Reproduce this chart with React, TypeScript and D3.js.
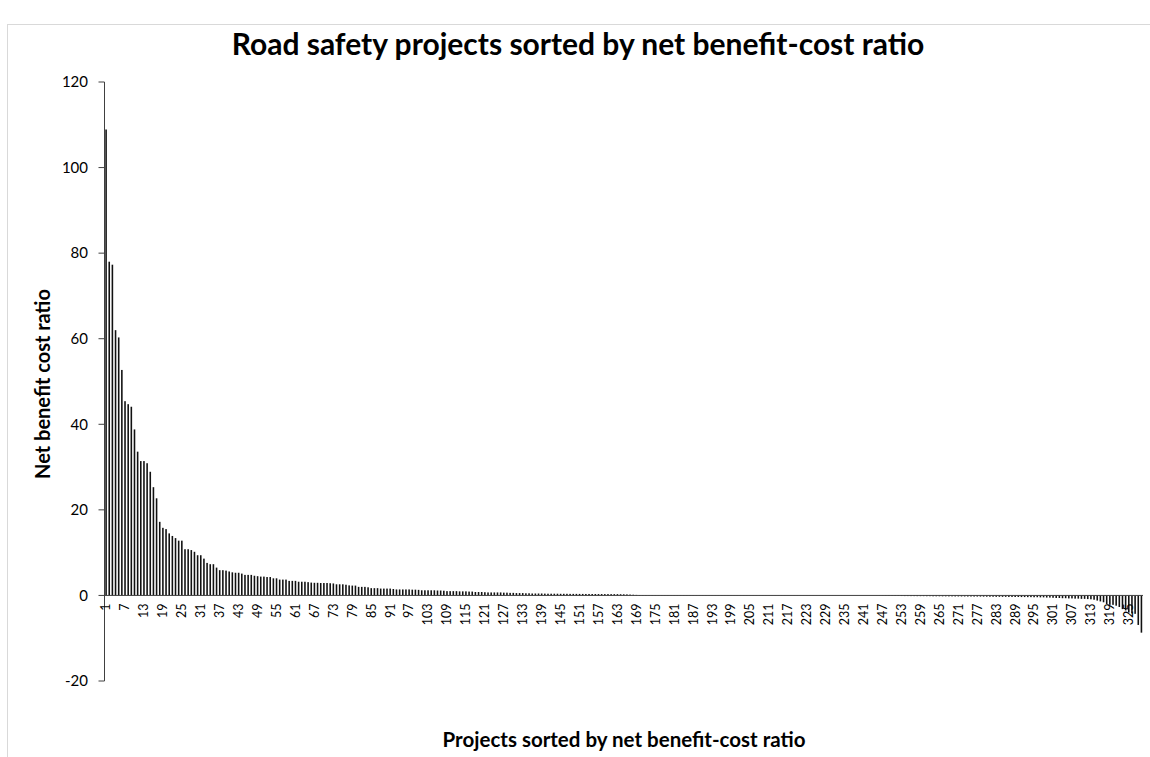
import React from "react";
import * as d3 from "d3";

// ---- Data ----
const chartTitle = "Road safety projects sorted by net benefit-cost ratio";
const yAxisTitle = "Net benefit cost ratio";
const xAxisTitle = "Projects sorted by net benefit-cost ratio";

const yTicks = [-20, 0, 20, 40, 60, 80, 100, 120];

const values: number[] = [
  // 1-20
  108.9, 78.0, 77.3, 62.0, 60.3, 52.7, 45.4, 44.7, 44.1, 38.8,
  33.6, 31.4, 31.4, 30.9, 28.9, 25.3, 22.7, 17.2, 15.8, 15.5,
  // 21-40
  14.5, 13.9, 13.4, 12.8, 12.8, 10.8, 10.8, 10.6, 10.2, 9.4,
  9.4, 8.6, 7.6, 7.3, 7.3, 6.5, 5.9, 5.9, 5.8, 5.6,
  // 41-60
  5.4, 5.3, 5.3, 5.1, 4.8, 4.8, 4.8, 4.6, 4.5, 4.4,
  4.4, 4.3, 4.3, 4.0, 4.0, 3.7, 3.7, 3.7, 3.4, 3.4,
  // 61-80
  3.4, 3.2, 3.2, 3.2, 3.1, 3.0, 2.95, 2.95, 2.9, 2.9,
  2.9, 2.85, 2.8, 2.6, 2.6, 2.6, 2.5, 2.35, 2.3, 2.3,
  // 81-100
  2.0, 2.0, 2.0, 1.9, 1.7, 1.7, 1.7, 1.6, 1.6, 1.6,
  1.6, 1.5, 1.4, 1.4, 1.4, 1.4, 1.4, 1.35, 1.35, 1.3,
  // 101-120
  1.2, 1.2, 1.2, 1.2, 1.2, 1.15, 1.15, 1.1, 1.0, 1.0,
  1.0, 1.0, 0.95, 0.95, 0.95, 0.9, 0.9, 0.8, 0.8, 0.8,
  // 121-140
  0.75, 0.7, 0.7, 0.7, 0.7, 0.7, 0.65, 0.65, 0.6, 0.6,
  0.55, 0.55, 0.55, 0.5, 0.5, 0.45, 0.45, 0.45, 0.45, 0.42,
  // 141-160
  0.4, 0.4, 0.4, 0.4, 0.38, 0.38, 0.38, 0.36, 0.36, 0.36,
  0.35, 0.35, 0.34, 0.34, 0.33, 0.33, 0.32, 0.32, 0.31, 0.31,
  // 161-180
  0.3, 0.3, 0.3, 0.28, 0.26, 0.24, 0.2, 0.16, 0.12, 0.1,
  0.08, 0.08, 0.07, 0.07, 0.07, 0.06, 0.06, 0.06, 0.06, 0.05,
  // 181-200
  0.05, 0.05, 0.05, 0.05, 0.05, 0.045, 0.045, 0.045, 0.045, 0.04,
  0.04, 0.04, 0.04, 0.04, 0.04, 0.035, 0.035, 0.035, 0.035, 0.035,
  // 201-220
  0.03, 0.03, 0.03, 0.03, 0.03, 0.03, 0.03, 0.03, 0.03, 0.03,
  0.025, 0.025, 0.025, 0.025, 0.025, 0.025, 0.025, 0.025, 0.025, 0.025,
  // 221-240
  0.02, 0.02, 0.02, 0.02, 0.02, 0.02, 0.02, 0.02, 0.02, 0.02,
  0.015, 0.015, 0.015, 0.015, 0.015, 0.01, 0.01, 0.01, 0.01, 0.01,
  // 241-260
  0.01, 0.01, 0.0, 0.0, -0.02, -0.03, -0.05, -0.07, -0.09, -0.1,
  -0.11, -0.12, -0.14, -0.15, -0.15, -0.16, -0.16, -0.17, -0.17, -0.17,
  // 261-280
  -0.18, -0.18, -0.2, -0.2, -0.2, -0.21, -0.21, -0.22, -0.22, -0.23,
  -0.23, -0.24, -0.24, -0.25, -0.25, -0.26, -0.26, -0.27, -0.28, -0.29,
  // 281-300
  -0.3, -0.3, -0.32, -0.32, -0.33, -0.33, -0.35, -0.35, -0.36, -0.36,
  -0.38, -0.38, -0.4, -0.4, -0.42, -0.42, -0.45, -0.45, -0.5, -0.5,
  // 301-314
  -0.55, -0.6, -0.6, -0.65, -0.65, -0.7, -0.7, -0.75, -0.75, -0.8,
  -0.8, -0.85, -0.9, -1.0,
  // 315-329
  -1.2, -1.4, -1.6, -2.0, -2.2, -2.2, -2.4, -2.7, -3.2, -3.5,
  -4.0, -4.2, -4.3, -6.9, -8.7,
];

const categories: number[] = values.map((_, i) => i + 1);
const tickEvery = 6;
const xTickLabels: number[] = categories.filter((c) => (c - 1) % tickEvery === 0);

// ---- Layout ----
const W = 1150;
const H = 757;
const plot = { left: 104.5, right: 1143, top: 82, bottom: 681 };

export default function App() {
  const x = d3
    .scaleBand<number>()
    .domain(categories)
    .range([plot.left, plot.right])
    .paddingInner(0.5)
    .paddingOuter(0.25);
  const y = d3.scaleLinear().domain([-20, 120]).range([plot.bottom, plot.top]);
  const y0 = y(0);
  const font = "Lato, 'Open Sans', sans-serif";

  return (
    <div style={{ position: "absolute", left: 0, top: 0 }}>
      <svg width={W} height={H} style={{ display: "block", background: "#fff" }}>
        {/* chart border */}
        <rect x={7.5} y={24.5} width={W} height={H} fill="none" stroke="#d9d9d9" strokeWidth={1} />

        {/* title */}
        <text
          x={578}
          y={55}
          textAnchor="middle"
          fontFamily={font}
          fontWeight={700}
          fontSize={30}
          fill="#000"
        >
          {chartTitle}
        </text>

        {/* bars */}
        <g>
          {values.map((v, i) => {
            const c = categories[i];
            const top = y(Math.max(0, v));
            const h = Math.abs(y(v) - y0);
            return (
              <rect
                key={c}
                x={x(c)}
                y={top}
                width={x.bandwidth()}
                height={h}
                fill="#111"
              />
            );
          })}
        </g>

        {/* y axis */}
        <line x1={plot.left} x2={plot.left} y1={plot.top} y2={plot.bottom} stroke="#404040" strokeWidth={1} />
        {yTicks.map((t) => (
          <g key={t}>
            <line x1={plot.left - 6} x2={plot.left} y1={y(t)} y2={y(t)} stroke="#404040" strokeWidth={1} />
            <text
              x={88}
              y={y(t)}
              dy="0.35em"
              textAnchor="end"
              fontFamily={font}
              fontSize={15}
              fill="#000"
            >
              {t}
            </text>
          </g>
        ))}

        {/* x axis (at zero) */}
        <line x1={plot.left} x2={plot.right} y1={y0} y2={y0} stroke="#404040" strokeWidth={1} />
        {xTickLabels.map((c) => {
          const cx = (x(c) as number) + x.bandwidth() / 2;
          return (
            <text
              key={c}
              transform={`translate(${cx},${y0 + 8}) rotate(-90)`}
              dy="0.35em"
              textAnchor="end"
              fontFamily={font}
              fontSize={12.5}
              fill="#000"
            >
              {c}
            </text>
          );
        })}

        {/* axis titles */}
        <text
          transform={`translate(43,384) rotate(-90)`}
          textAnchor="middle"
          dy="0.35em"
          fontFamily={font}
          fontWeight={700}
          fontSize={20}
          fill="#000"
        >
          {yAxisTitle}
        </text>
        <text
          x={624}
          y={747}
          textAnchor="middle"
          fontFamily={font}
          fontWeight={700}
          fontSize={20.5}
          fill="#000"
        >
          {xAxisTitle}
        </text>
      </svg>
    </div>
  );
}
